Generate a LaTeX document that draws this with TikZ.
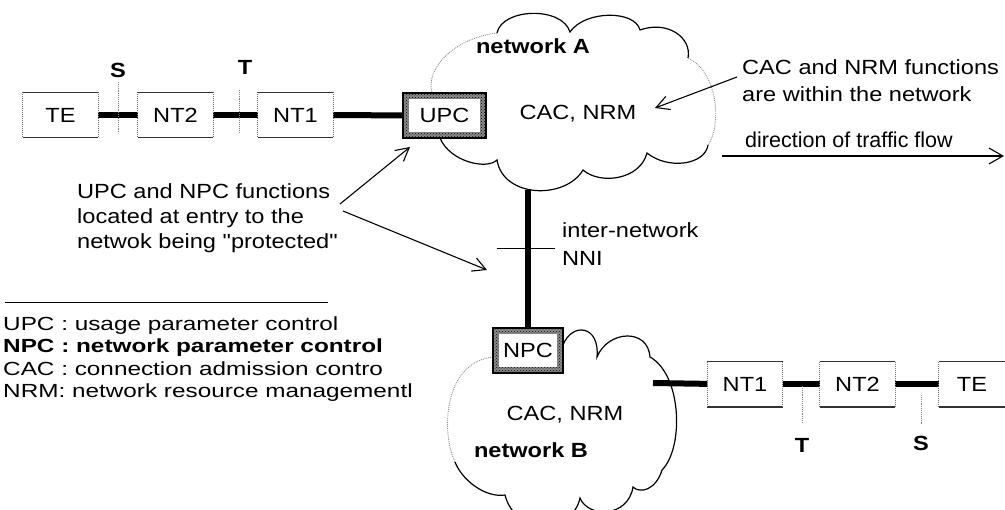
\documentclass[tikz,border=0pt]{standalone}
\usepackage{fontspec}
\setmainfont{Liberation Sans}
\newfontfamily\txtfont[FakeStretch=1.15]{Liberation Sans}
\newfontfamily\plainfont{Liberation Sans}
\newfontfamily\legfont[FakeStretch=1.28]{Liberation Sans}
\usetikzlibrary{arrows.meta,patterns}

\tikzset{
  txt/.style={font=\txtfont\fontsize{20.5}{25}\selectfont, inner sep=0pt, align=left},
  txtb/.style={font=\txtfont\bfseries\fontsize{20.5}{25}\selectfont, inner sep=0pt},
  legend/.style={font=\legfont\fontsize{19}{22.5}\selectfont, inner sep=0pt, align=left},
  termbox/.style={minimum width=75pt, minimum height=45pt, inner sep=0pt,
                  font=\txtfont\fontsize{20.5}{25}\selectfont},
  boxedge/.style={line width=1.4pt, black!80},
  boxside/.style={line width=1pt, black!55, densely dotted},
  link/.style={line width=6pt, black},
  guard/.style={minimum width=83pt, minimum height=45pt, inner sep=0pt, draw=black, line width=1.2pt,
    font=\txtfont\fontsize{20.5}{25}\selectfont,
    path picture={
      \fill[black!45] (path picture bounding box.south west) rectangle (path picture bounding box.north east);
      \fill[pattern=crosshatch dots, pattern color=black] (path picture bounding box.south west) rectangle (path picture bounding box.north east);
      \fill[white] ([shift={(6pt,-6pt)}]path picture bounding box.north west) rectangle ([shift={(-6pt,6pt)}]path picture bounding box.south east);
    }},
  cloudline/.style={line width=1.2pt, black},
  cloudfaint/.style={line width=0.9pt, black!45, densely dotted},
  tick/.style={line width=0.9pt, black!50, densely dotted},
  pointer/.style={line width=1.1pt, -{Straight Barb[length=13pt,width=14pt]}},
  flow/.style={line width=1.1pt, -{Straight Barb[length=14pt,width=16pt]}},
}

\begin{document}
\begin{tikzpicture}[x=1pt, y=-1pt]
\useasboundingbox (0,0) rectangle (1005,510);
\clip (0,0) rectangle (1005,510);

% ---- network A cloud ----
\draw[cloudline] (440,138) .. controls (450,162) and (487,170) .. (497,160)
  .. controls (503,198) and (565,200) .. (583,170)
  .. controls (600,185) and (640,180) .. (647,153)
  .. controls (668,170) and (705,165) .. (708,145);
\draw[cloudfaint] (708,145) .. controls (722,125) and (718,72) .. (688,58);
\draw[cloudline] (688,58) .. controls (692,38) and (668,20) .. (640,30)
  .. controls (635,10) and (585,10) .. (570,32)
  .. controls (562,6) and (502,8) .. (497,33);
\draw[cloudfaint] (497,33) .. controls (455,38) and (425,68) .. (432,93);

% ---- network B cloud ----
\draw[cloudline] (563,345) .. controls (572,322) and (600,325) .. (597,357)
  .. controls (608,330) and (648,328) .. (650,357)
  .. controls (682,375) and (684,448) .. (662,470)
  .. controls (656,490) and (640,494) .. (633,487)
  .. controls (628,518) and (588,518) .. (580,498)
  .. controls (572,535) and (515,535) .. (505,495)
  .. controls (485,498) and (462,480) .. (455,462);
\draw[cloudfaint] (455,462) .. controls (440,430) and (445,362) .. (493,357);

% ---- access chain on network A side ----
\node[termbox] (teA)  at (60.5,115) {TE};
\node[termbox] (nttwoA) at (175.5,115) {NT2};
\node[termbox] (ntoneA) at (295.5,115) {NT1};
\node[guard]   (upc)  at (444.5,115.5) {UPC};

\draw[link] (teA) -- (nttwoA);
\draw[link] (nttwoA) -- (ntoneA);
\draw[link] (ntoneA) -- (upc);

\draw[tick] (118,82) -- (118,132);
\draw[tick] (239,90) -- (239,132);
\node[txtb] (sA) at (118,70) {S};
\node[txtb] (tA) at (245,67) {T};

% ---- access chain on network B side ----
\node[termbox] (ntoneB) at (745,384.5) {NT1};
\node[termbox] (nttwoB) at (857.5,384.5) {NT2};
\node[termbox, minimum width=66pt] (teB) at (972,384.5) {TE};
\coordinate (bRight) at (653,383);

\draw[link] (bRight) -- (ntoneB);
\draw[link] (ntoneB) -- (nttwoB);
\draw[link] (nttwoB) -- (teB);

\draw[tick] (802,386) -- (802,423);
\draw[tick] (921,395) -- (921,425);
\node[txtb] (tB) at (802,445) {T};
\node[txtb] (sB) at (921,443) {S};

% box outlines: solid top and bottom, dotted sides
\foreach \n in {teA,nttwoA,ntoneA,ntoneB,nttwoB,teB}{
  \draw[boxedge] (\n.north west) -- (\n.north east);
  \draw[boxedge] (\n.south west) -- (\n.south east);
  \draw[boxside] (\n.north west) -- (\n.south west);
  \draw[boxside] (\n.north east) -- (\n.south east);
}

% ---- inter-network link ----
\node[guard, minimum width=70pt] (npc) at (528,350.5) {NPC};
\coordinate (aBot) at (528,190);
\draw[link] (aBot) -- (npc);
\coordinate (nniL) at (497,249);
\coordinate (nniR) at (555,249);
\draw[line width=1pt] (nniL) -- (nniR);
\node[txt, anchor=west] (nni) at (562,244) {inter-network\\[3pt]NNI};

% ---- labels inside the clouds ----
\node[txtb] (netA) at (533,46) {network A};
\node[txt]  (cacA) at (578,114) {CAC, NRM};
\node[txt]  (cacB) at (565,415) {CAC, NRM};
\node[txtb] (netB) at (531,450) {network B};

% ---- annotations ----
\node[txt, anchor=west] (upcnote) at (77,218.5)
  {UPC and NPC functions\\located at entry to the\\netwok being "protected"};
\coordinate (upcTailA) at (340,204);
\coordinate (upcTipA)  at (410,147);
\coordinate (upcTailB) at (343,211);
\coordinate (upcTipB)  at (487,270);
\draw[pointer] (upcTailA) -- (upcTipA);
\draw[pointer] (upcTailB) -- (upcTipB);

\node[txt, anchor=west] (cacnote) at (742,81)
  {CAC and NRM functions\\[2pt]are within the network};
\coordinate (cacTail) at (737,77);
\coordinate (cacTip)  at (655,108);
\draw[pointer] (cacTail) -- (cacTip);

\node[font=\plainfont\fontsize{21.5}{25}\selectfont, inner sep=0pt, anchor=west] (flowlbl) at (745,140) {direction of traffic flow};
\coordinate (flowS) at (722,156);
\coordinate (flowE) at (1004,156);
\draw[flow] (flowS) -- (flowE);

% ---- legend ----
\draw[line width=1pt] (5,303) -- (328,303);
\node[legend, anchor=west] (legend) at (3,359)
  {UPC : usage parameter control\\
   {\bfseries NPC : network parameter control}\\
   CAC : connection admission contro\\
   NRM: network resource managementl};
\end{tikzpicture}
\end{document}
